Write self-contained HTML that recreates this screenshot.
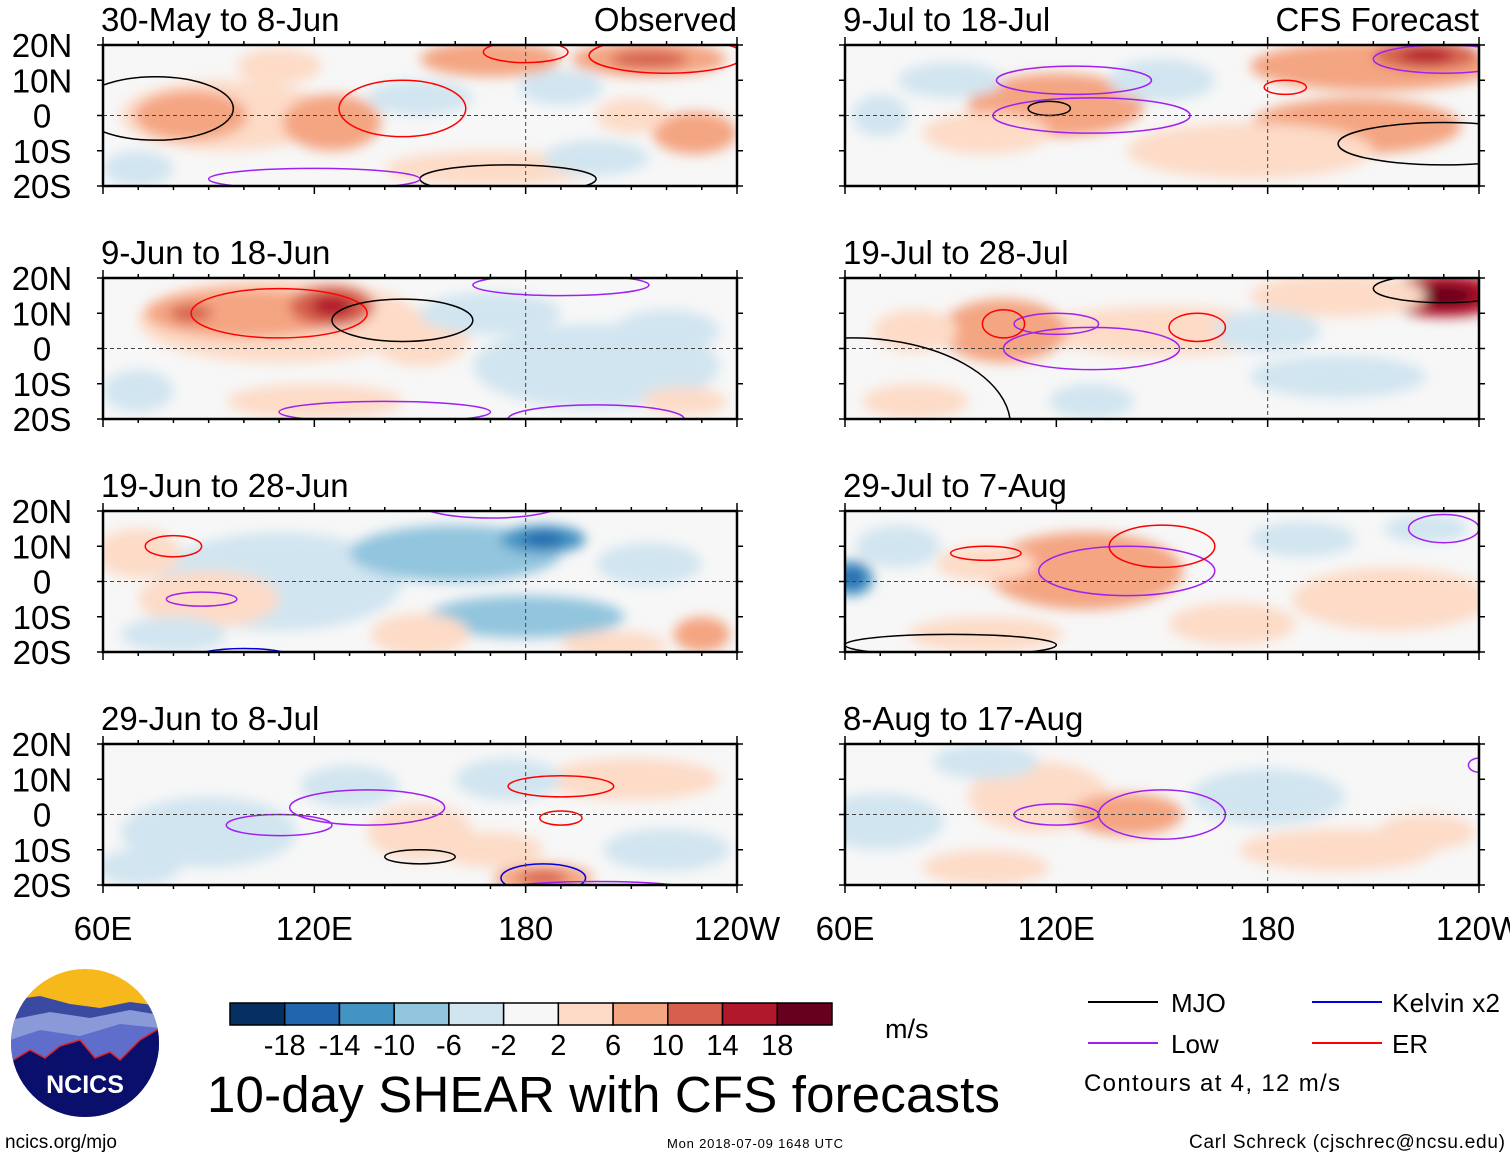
<!DOCTYPE html>
<html><head><meta charset="utf-8">
<style>
body{margin:0;background:#fff;width:1510px;height:1158px;overflow:hidden;font-family:"Liberation Sans",sans-serif}
svg text{font-family:"Liberation Sans",sans-serif}
</style></head>
<body>
<svg id="chart" width="1510" height="1158" viewBox="0 0 1510 1158">
<defs>
<filter id="blur" x="-30%" y="-30%" width="160%" height="160%"><feGaussianBlur stdDeviation="6"/></filter>
<clipPath id="logoclip"><circle cx="85" cy="1043" r="74"/></clipPath>
</defs>
<g id="panels"></g>
<g id="bottom">
<g clip-path="url(#logoclip)">
<rect x="10" y="968" width="150" height="150" fill="#f6b81a"/>
<path d="M10 1000 L40 996 L70 1004 L100 1008 L130 1002 L160 1006 L160 1118 L10 1118Z" fill="#3a4aa0"/>
<path d="M10 1020 L50 1012 L90 1018 L130 1010 L160 1015 L160 1118 L10 1118Z" fill="#8a9ad8"/>
<path d="M10 1040 L40 1030 L80 1036 L120 1024 L160 1028 L160 1118 L10 1118Z" fill="#5f6ecb"/>
<path d="M10 1062 L30 1050 L45 1058 L60 1046 L80 1040 L95 1058 L110 1052 L120 1060 L140 1040 L160 1028 L160 1118 L10 1118Z" fill="#0a0f6b" stroke="#e0202a" stroke-width="1.5"/>
</g>
<text x="85" y="1093" font-size="25" font-weight="bold" fill="#fff" text-anchor="middle">NCICS</text>
<text x="5" y="1148" font-size="19">ncics.org/mjo</text>
<g id="colorbar"></g>
<text x="885" y="1038" font-size="27">m/s</text>
<text x="207" y="1112" font-size="51" textLength="793">10-day SHEAR with CFS forecasts</text>
<g>
<line x1="1088" y1="1002" x2="1158" y2="1002" stroke="#000" stroke-width="2"/>
<text x="1171" y="1012" font-size="26">MJO</text>
<line x1="1088" y1="1043" x2="1158" y2="1043" stroke="#a020f0" stroke-width="2"/>
<text x="1171" y="1053" font-size="26">Low</text>
<line x1="1312" y1="1002" x2="1382" y2="1002" stroke="#0000e0" stroke-width="2"/>
<text x="1392" y="1012" font-size="26" textLength="108">Kelvin x2</text>
<line x1="1312" y1="1043" x2="1382" y2="1043" stroke="#f00" stroke-width="2"/>
<text x="1392" y="1053" font-size="26">ER</text>
<text x="1084" y="1091" font-size="24" textLength="256">Contours at 4, 12 m/s</text>
</g>
<text x="667" y="1148" font-size="13" textLength="176">Mon 2018-07-09 1648 UTC</text>
<text x="1505" y="1148" font-size="19" text-anchor="end" textLength="316">Carl Schreck (cjschrec@ncsu.edu)</text>
</g>
</svg>
<script>
const levels=[-18,-14,-10,-6,-2,2,6,10,14,18];
const colors=["#053061","#2166ac","#4393c3","#92c5de","#d1e5f0","#f7f7f7","#fddbc7","#f4a582","#d6604d","#b2182b","#67001f"];
const lonTicks=[60,120,180,240];
const lonLabels=["60E","120E","180","120W"];
const latTicks=[20,10,0,-10,-20];
const latLabels=["20N","10N","0","10S","20S"];
const titles=["30-May to 8-Jun","9-Jun to 18-Jun","19-Jun to 28-Jun","29-Jun to 8-Jul","9-Jul to 18-Jul","19-Jul to 28-Jul","29-Jul to 7-Aug","8-Aug to 17-Aug"];
// blobs: [lon, lat, lonRadius, latRadius, value]
const blobs=[
 [[95,0,30,10,4],[85,0,16,7,8],[125,-2,14,8,8],[170,16,20,5,9],[215,16,22,5,10],[190,8,12,5,-5],[228,-5,12,6,8],[170,-15,30,5,5],[110,14,12,5,4],[200,-12,15,5,-3],[150,5,15,5,-3],[70,-15,10,5,-3],[210,0,10,5,3]],
 [[110,8,40,12,4],[100,10,28,7,9],[125,12,12,6,12],[85,10,12,5,10],[150,3,14,8,5],[200,-5,35,12,-5],[170,10,20,6,-4],[220,5,15,6,-4],[225,-15,12,4,6],[120,-15,25,5,4],[70,-12,10,6,-3]],
 [[110,0,35,14,-3],[160,8,30,8,-6],[185,12,12,4,-10],[70,8,12,7,4],[180,-10,28,6,-6],[230,-15,8,5,9],[150,-15,14,6,5],[90,-5,20,8,4],[215,5,15,6,-3],[80,-15,15,5,-5],[205,-18,15,4,5]],
 [[90,-5,25,10,-3],[150,-5,15,8,5],[185,-18,14,4,10],[130,8,14,6,-3],[210,10,25,6,4],[175,10,15,6,-3],[70,-15,12,5,-4],[220,-10,18,6,-3],[170,-10,15,5,4]],
 [[120,3,25,9,7],[205,-3,30,8,7],[210,14,35,7,8],[225,17,15,4,14],[175,-10,35,8,4],[70,0,8,6,-5],[100,-5,18,6,4],[150,10,15,6,-3],[90,10,15,5,-3]],
 [[230,15,18,6,16],[200,15,25,6,6],[150,5,35,7,5],[105,5,18,9,8],[80,-15,15,5,5],[180,5,15,6,-3],[130,-15,12,5,-5],[200,-8,25,6,-3],[80,5,12,6,4]],
 [[128,3,28,11,8],[100,5,14,5,5],[62,1,6,5,-12],[215,-5,28,9,4],[190,12,15,5,-4],[100,-15,22,5,4],[170,-12,18,6,4],[75,10,12,6,-3],[225,15,12,4,-3]],
 [[115,5,20,10,5],[140,0,16,6,7],[70,-2,18,8,-4],[180,5,22,8,-3],[200,-10,28,6,4],[225,-5,14,5,4],[100,-15,18,5,4],[100,15,15,5,-3]]
];
// contours: [lon, lat, lonRadius, latRadius, colorIndex] 0=MJO 1=Low 2=ER 3=Kelvin
const contours=[
 [[75,2,22,9,0],[145,2,18,8,2],[180,18,12,3,2],[220,17,22,5,2],[175,-18,25,4,0],[120,-18,30,3,1]],
 [[110,10,25,7,2],[145,8,20,6,0],[190,18,25,3,1],[200,-20,25,4,1],[140,-18,30,3,1]],
 [[80,10,8,3,2],[88,-5,10,2,1],[170,22,20,4,1],[230,22,10,2,1],[100,-22,15,3,3]],
 [[135,2,22,5,1],[110,-3,15,3,1],[190,8,15,3,2],[190,-1,6,2,2],[185,-18,12,4,3],[150,-12,10,2,0],[200,-22,30,3,1]],
 [[125,10,22,4,1],[130,0,28,5,1],[118,2,6,2,0],[230,-8,30,6,0],[230,16,20,4,1],[185,8,6,2,2]],
 [[62,-22,45,25,0],[120,7,12,3,1],[105,7,6,4,2],[130,0,25,6,1],[230,17,20,4,0],[160,6,8,4,2]],
 [[100,8,10,2,2],[140,3,25,7,1],[150,10,15,6,2],[230,15,10,4,1],[90,-18,30,3,0]],
 [[150,0,18,7,1],[120,0,12,3,1],[240,14,3,2,1]]
];
const lineColors=["#000","#a020f0","#f00","#0000e0"];
const panelTops=[45,278,511,744];
const panelLefts=[103,845];
const PW=634,PH=141;
const NS="http://www.w3.org/2000/svg";
function colorFor(v){let i=0;while(i<levels.length&&v>levels[i])i++;return colors[i];}
function mk(tag,attrs,parent){const e=document.createElementNS(NS,tag);for(const k in attrs)e.setAttribute(k,attrs[k]);parent.appendChild(e);return e;}
const root=document.getElementById('panels');
for(let p=0;p<8;p++){
 const col=p<4?0:1,row=p%4;
 const x0=panelLefts[col],y0=panelTops[row];
 const xs=lon=>x0+(lon-60)/180*PW;
 const ys=lat=>y0+(20-lat)/40*PH;
 const g=mk('g',{},root);
 
 
 const cid='clip'+p;
 const cp=mk('clipPath',{id:cid},g);mk('rect',{x:x0,y:y0,width:PW,height:PH},cp);
 const inner=mk('g',{'clip-path':'url(#'+cid+')'},g);
 mk('rect',{x:x0,y:y0,width:PW,height:PH,fill:'#f7f7f7'},inner);
 const fg=mk('g',{filter:'url(#blur)'},inner);
 blobs[p].forEach(b=>{
  const e=mk('ellipse',{cx:xs(b[0]),cy:ys(b[1]),rx:b[2]/180*PW,ry:b[3]/40*PH,fill:colorFor(b[4])},fg);
  
  
  if(Math.abs(b[4])>=10){mk('ellipse',{cx:xs(b[0]),cy:ys(b[1]),rx:b[2]/180*PW*0.5,ry:b[3]/40*PH*0.5,fill:colorFor(b[4]>0?b[4]+4:b[4]-4)},fg);}
 });
 contours[p].forEach(c=>{
  const e=mk('ellipse',{cx:xs(c[0]),cy:ys(c[1]),rx:c[2]/180*PW,ry:c[3]/40*PH,fill:'none',stroke:lineColors[c[4]],'stroke-width':1.5},inner);
  
  
 });
 mk('line',{x1:x0,x2:x0+PW,y1:ys(0),y2:ys(0),stroke:'#444','stroke-dasharray':'4,3','stroke-width':1},inner);
 mk('line',{x1:xs(180),x2:xs(180),y1:y0,y2:y0+PH,stroke:'#444','stroke-dasharray':'4,3','stroke-width':1},inner);
 mk('rect',{x:x0,y:y0,width:PW,height:PH,fill:'none',stroke:'#000','stroke-width':2.5},g);
 for(let lon=60;lon<=240;lon+=10){
  const L=(lon%60===0)?8:4;
  mk('line',{x1:xs(lon),x2:xs(lon),y1:y0,y2:y0-L,stroke:'#000','stroke-width':1.5},g);
  mk('line',{x1:xs(lon),x2:xs(lon),y1:y0+PH,y2:y0+PH+L,stroke:'#000','stroke-width':1.5},g);
 }
 latTicks.forEach(lat=>{
  mk('line',{x1:x0,x2:x0-6,y1:ys(lat),y2:ys(lat),stroke:'#000','stroke-width':1.5},g);
  mk('line',{x1:x0+PW,x2:x0+PW+6,y1:ys(lat),y2:ys(lat),stroke:'#000','stroke-width':1.5},g);
 });
 if(col===0){latTicks.forEach((lat,i)=>{const t=mk('text',{x:42,y:ys(lat)+12,'font-size':33,'text-anchor':'middle'},g);t.textContent=latLabels[i];});}
 const t=mk('text',{x:x0-2,y:y0-14,'font-size':33},g);t.textContent=titles[p];
 
 
 if(row===0){const s=mk('text',{x:x0+PW,y:y0-14,'font-size':33,'text-anchor':'end'},g);s.textContent=col===0?'Observed':'CFS Forecast';
  
  }
 if(row===3){lonTicks.forEach((lon,i)=>{const l=mk('text',{x:xs(lon),y:940,'font-size':33,'text-anchor':'middle'},g);l.textContent=lonLabels[i];
  
  });}
}
const cb=document.getElementById('colorbar');
const cbx=230,cbw=602/11;
colors.forEach((c,i)=>{const r=mk('rect',{x:cbx+i*cbw,y:1003,width:cbw,height:22,fill:c,stroke:'#000','stroke-width':1.5},cb);
 
 });
levels.forEach((v,i)=>{const t=mk('text',{x:cbx+(i+1)*cbw,y:1055,'font-size':29,'text-anchor':'middle'},cb);t.textContent=v;
 
 });
</script>
</body></html>
